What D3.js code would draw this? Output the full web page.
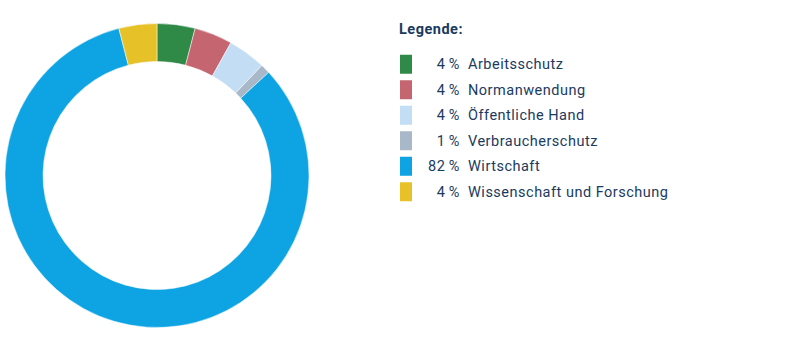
<!DOCTYPE html>
<html>
<head>
<meta charset="utf-8">
<script src="https://cdn.jsdelivr.net/npm/d3@7"></script>
<style>
  body { margin: 0; background: #fff; }
  svg { display: block; font-family: Roboto, "Noto Sans", sans-serif; }
</style>
</head>
<body>
<div id="chart"></div>
<script>
// data
var categories = ['Arbeitsschutz', 'Normanwendung', 'Öffentliche Hand', 'Verbraucherschutz', 'Wirtschaft', 'Wissenschaft und Forschung'];
var values = [4, 4, 4, 1, 82, 4];
var colors = ['#2f8a47', '#c4656f', '#c3ddf5', '#a8b8c9', '#0ea3e2', '#e7c128'];
var legendTitle = 'Legende:';

var width = 801, height = 351;
var textColor = '#1b3b5e';

var svg = d3.select('#chart').append('svg')
  .attr('width', width)
  .attr('height', height);

// donut
var cx = 157, cy = 175.5;
var outerR = 152, innerR = 114;

var pie = d3.pie().sort(null).value(function (d) { return d; });
var arc = d3.arc().innerRadius(innerR).outerRadius(outerR);

var g = svg.append('g')
  .attr('transform', 'translate(' + cx + ',' + cy + ')');

g.selectAll('path')
  .data(pie(values))
  .enter()
  .append('path')
  .attr('d', arc)
  .attr('fill', function (d, i) { return colors[i]; })
  .attr('stroke', '#fff')
  .attr('stroke-width', 0.5);

// legend
var legend = svg.append('g').attr('transform', 'translate(399,0)')
  .style('font-size', '14.5px')
  .style('letter-spacing', '0.5px');

legend.append('text')
  .attr('x', 0)
  .attr('y', 34)
  .attr('fill', textColor)
  .style('font-weight', 'bold')
  .text(legendTitle);

var y = d3.scaleBand()
  .domain(categories)
  .range([51.5, 204.5]);

var row = legend.selectAll('.row')
  .data(categories)
  .enter()
  .append('g')
  .attr('class', 'row')
  .attr('transform', function (d) { return 'translate(0,' + (y(d) + y.bandwidth() / 2) + ')'; });

row.append('rect')
  .attr('x', 1)
  .attr('y', -9.5)
  .attr('width', 12)
  .attr('height', 19)
  .attr('fill', function (d, i) { return colors[i]; });

row.append('text')
  .attr('x', 61)
  .attr('dy', '0.35em')
  .attr('text-anchor', 'end')
  .attr('fill', textColor)
  .text(function (d, i) { return values[i] + '\u2009%'; });

row.append('text')
  .attr('x', 69)
  .attr('dy', '0.35em')
  .attr('fill', textColor)
  .text(function (d) { return d; });
</script>
</body>
</html>
